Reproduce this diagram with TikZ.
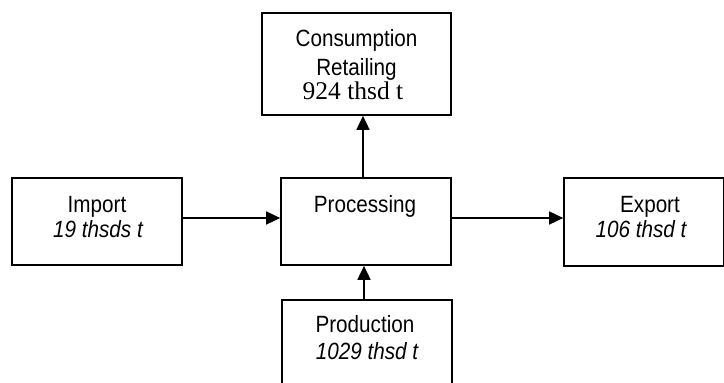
\documentclass[tikz,border=0pt]{standalone}
\usepackage{fontspec}
\setmainfont{Liberation Sans}[FakeStretch=0.88]
\newfontfamily\numserif{Liberation Serif}
\usetikzlibrary{arrows.meta}
\begin{document}
\begin{tikzpicture}[x=1pt,y=1pt,
  box/.style={draw=black, line width=1.7pt, rectangle, inner sep=0pt},
  lbl/.style={anchor=base, inner sep=0pt, font=\fontsize{23.5}{27}\selectfont},
  num/.style={anchor=base, inner sep=0pt, font=\fontsize{23.5}{27}\selectfont\itshape},
  arr/.style={draw=black, line width=1.7pt, -{Triangle[length=14pt,width=13pt]}}]
\useasboundingbox (0,0) rectangle (724,383);
\clip (0,0) rectangle (724,383);
\fill[white] (0,0) rectangle (724,383);
% boxes
\node[box, minimum width=189pt, minimum height=102pt] (cons) at (356.5,319) {};
\node[box, minimum width=170pt, minimum height=87pt] (imp) at (97,161.5) {};
\node[box, minimum width=170pt, minimum height=87pt] (proc) at (366,161.5) {};
\node[box, minimum width=160pt, minimum height=88pt] (exp) at (644,161) {};
\node[box, minimum width=170pt, minimum height=87pt] (prod) at (367,39.5) {};
% texts
\node[lbl] (t1) at (356.5,336) {Consumption};
\node[lbl] (t2) at (356.5,307) {Retailing};
\node[lbl, font=\fontsize{25.5}{29}\numserif] (t3) at (353,283) {924 thsd t};
\node[lbl] (t4) at (97,170) {Import};
\node[num] (t5) at (98,145) {19 thsds t};
\node[lbl] (t6) at (365,170) {Processing};
\node[lbl] (t7) at (650,170) {Export};
\node[num] (t8) at (641,145) {106 thsd t};
\node[lbl] (t9) at (365,50) {Production};
\node[num] (t10) at (367,23) {1029 thsd t};
% arrows
\draw[arr] ([yshift=3.5pt]imp.east) -- ([yshift=3.5pt]imp.east -| proc.west);
\draw[arr] ([yshift=3.5pt]proc.east) -- ([yshift=3.5pt]proc.east -| exp.west);
\draw[arr] ([xshift=-3pt]proc.north) -- ([xshift=-3pt]proc.north |- cons.south);
\draw[arr] ([xshift=-3pt]prod.north) -- ([xshift=-3pt]prod.north |- proc.south);
\end{tikzpicture}
\end{document}
